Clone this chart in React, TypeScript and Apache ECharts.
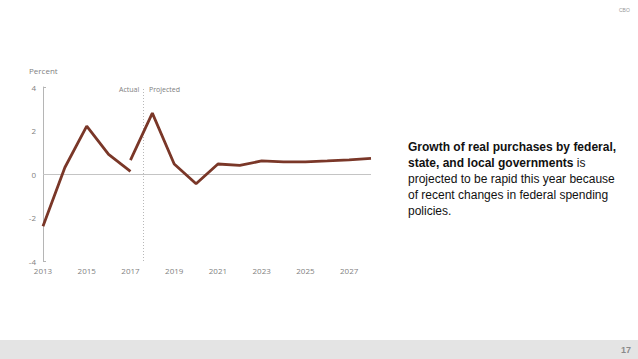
import React, { useEffect, useRef } from "react";
import * as echarts from "echarts";

const actualYears = [2013, 2014, 2015, 2016, 2017];
const actualValues = [-2.4, 0.3, 2.2, 0.9, 0.12];
const projectedYears = [2017, 2018, 2019, 2020, 2021, 2022, 2023, 2024, 2025, 2026, 2027, 2028];
const projectedValues = [0.64, 2.8, 0.46, -0.45, 0.46, 0.4, 0.6, 0.56, 0.56, 0.6, 0.65, 0.72];
const dividerYear = 2017.6;

const LINE = "#7a3728";
const GRAYTXT = "#7f7f7f";

export default function App() {
  const ref = useRef<HTMLDivElement>(null);
  useEffect(() => {
    const chart = echarts.init(ref.current!, null, { renderer: "svg" });
    chart.setOption({
      animation: false,
      backgroundColor: "#ffffff",
      grid: { left: 43, right: 267, top: 87, bottom: 98 },
      xAxis: {
        type: "value",
        min: 2013,
        max: 2028,
        interval: 1,
        axisLine: { show: false },
        axisTick: { show: false },
        splitLine: { show: false },
        axisLabel: {
          color: GRAYTXT,
          fontSize: 8,
          fontFamily: "Open Sans",
          margin: 5,
          formatter: (v: number) => (v % 2 === 1 && v <= 2027 ? String(v) : ""),
        },
      },
      yAxis: {
        type: "value",
        min: -4,
        max: 4,
        interval: 2,
        name: "Percent",
        nameLocation: "end",
        nameGap: 13,
        nameTextStyle: { color: GRAYTXT, fontSize: 8, fontFamily: "Open Sans", align: "left", padding: [0, 0, 0, -14] },
        axisLine: { show: true, lineStyle: { color: "#b5b5b5", width: 1 } },
        axisTick: { show: true, inside: true, length: 3, customValues: [-4, 4], lineStyle: { color: "#b5b5b5" } },
        splitLine: { show: false },
        axisLabel: {
          color: GRAYTXT,
          fontSize: 8,
          fontFamily: "Open Sans",
          margin: 7,
        },
      },
      series: [
        {
          type: "line",
          name: "Actual",
          data: actualYears.map((y, i) => [y, actualValues[i]]),
          symbol: "none",
          lineStyle: { color: LINE, width: 2.8 },
          z: 5,
          markLine: {
            silent: true,
            symbol: "none",
            label: { show: false },
            data: [
              { yAxis: 0, lineStyle: { color: "#c4c4c4", width: 1.2, type: "solid" } },
              { xAxis: dividerYear, lineStyle: { color: "#b8b8b8", width: 1, type: [1, 2] } },
            ],
          },
        },
        {
          type: "line",
          name: "Projected",
          data: projectedYears.map((y, i) => [y, projectedValues[i]]),
          symbol: "none",
          lineStyle: { color: LINE, width: 2.8 },
          z: 5,
        },
      ],
      graphic: [
        { type: "text", left: 119, top: 86, style: { text: "Actual", fontSize: 7, fill: "#808080", fontFamily: "Open Sans" } },
        { type: "text", left: 149, top: 86, style: { text: "Projected", fontSize: 7, fill: "#808080", fontFamily: "Open Sans" } },
        {
          type: "text",
          left: 408,
          top: 141,
          style: {
            text:
              "{b|Growth of real purchases by federal,}\n{b|state, and local governments}{n| is}\n{n|projected to be rapid this year because}\n{n|of recent changes in federal spending}\n{n|policies.}",
            rich: {
              b: { fontSize: 12, fontWeight: "bold", fill: "#111", fontFamily: "Liberation Sans", lineHeight: 16 },
              n: { fontSize: 12, fill: "#111", fontFamily: "Liberation Sans", lineHeight: 16 },
            },
          },
        },
        { type: "rect", shape: { x: 0, y: 340, width: 638, height: 19 }, style: { fill: "#e4e4e4" } },
        { type: "text", left: 621, top: 345, style: { text: "17", fontSize: 9, fontWeight: "bold", fill: "#8a8a8a", fontFamily: "Liberation Sans" } },
        { type: "text", left: 619, top: 7, style: { text: "CBO", fontSize: 5, fill: "#999", fontFamily: "Liberation Sans" } },
      ],
    });
    return () => chart.dispose();
  }, []);
  return <div ref={ref} style={{ position: "fixed", left: 0, top: 0, width: 638, height: 359 }} />;
}
